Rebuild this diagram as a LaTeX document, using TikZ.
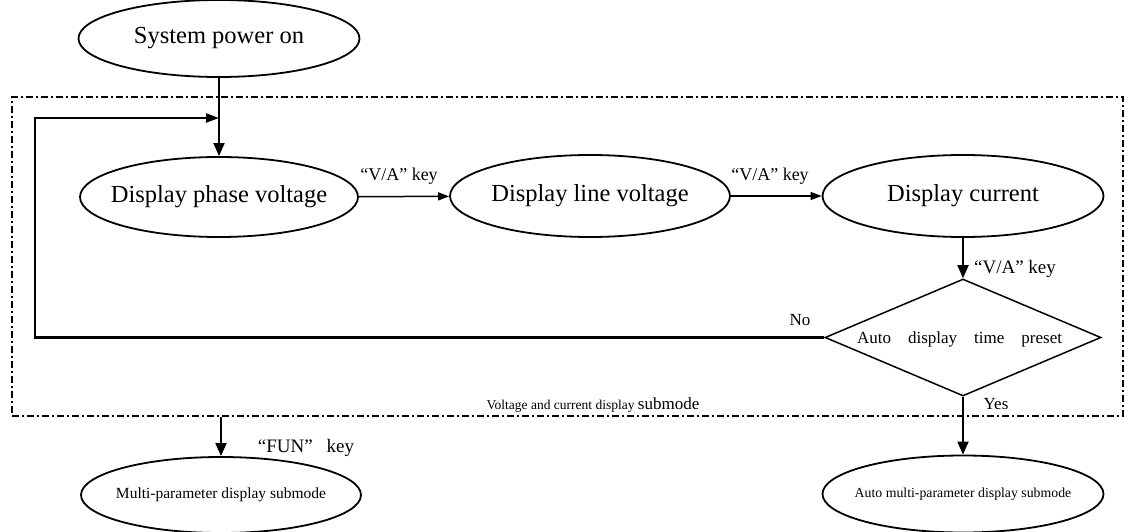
\documentclass[tikz,border=0pt]{standalone}
\usepackage{fontspec}
\setmainfont{Liberation Serif}
\usetikzlibrary{shapes.geometric,arrows.meta}
\newcommand{\zw}[1]{\makebox[0pt]{#1}}
\tikzset{
  every picture/.style={x=1pt,y=-1pt},
  stadium/.style={draw,ellipse,line width=1.8pt,inner sep=0pt,align=center},
  bigtext/.style={font=\fontsize{24.5}{28}\selectfont},
  flow/.style={line width=1.8pt,-{Triangle[length=13pt,width=11pt]}},
  hflow/.style={line width=1.5pt,-{Triangle[length=11pt,width=8pt]}},
  keylabel/.style={font=\fontsize{18}{20}\selectfont,inner sep=0pt},
  dashdot/.style={line width=1.8pt,dash pattern=on 7pt off 3pt on 2pt off 3pt},
}
\begin{document}
\begin{tikzpicture}
\useasboundingbox (0,0) rectangle (1125,532);
% dash-dot submode frame
\node[draw,dashdot,minimum width=1111pt,minimum height=319pt,inner sep=0pt] (box) at (567.5,256.5) {};
\node[inner sep=0pt,anchor=base] (boxlab) at (593,409) {\fontsize{13.5}{15}\selectfont Voltage and current display \fontsize{17}{19}\selectfont submode};
% ellipses
\node[stadium,bigtext,minimum width=281pt,minimum height=77pt] (pwr) at (219,38.5) {\zw{System power on}};
\node[stadium,bigtext,minimum width=278pt,minimum height=80pt] (phase) at (219,197) {\zw{Display phase voltage}};
\node[stadium,bigtext,minimum width=280pt,minimum height=82pt] (linev) at (590,196) {\zw{Display line voltage}};
\node[stadium,bigtext,minimum width=281pt,minimum height=82pt] (curr) at (963,196) {\zw{Display current}};
\node[draw,diamond,line width=1.5pt,inner sep=0pt,minimum width=276pt,minimum height=117pt] (dec) at (963,337.5) {};
\node[inner sep=0pt] (dectext) at (959.5,339) {\fontsize{17}{19}\selectfont\makebox[205pt][s]{Auto\hfill display\hfill time\hfill preset}};
\node[stadium,font=\fontsize{15.5}{18}\selectfont,minimum width=280pt,minimum height=76pt] (multi) at (221,495) {\zw{Multi-parameter display submode}};
\node[stadium,font=\fontsize{13.8}{16}\selectfont,minimum width=281pt,minimum height=77pt] (autom) at (963,494) {\zw{Auto multi-parameter display submode}};
% connectors
\draw[flow] (pwr) -- (phase);
\draw[hflow] (phase) -- (linev);
\draw[hflow] (linev) -- (curr);
\draw[flow] (curr) -- (dec);
\draw[flow] (dec) -- (autom);
\coordinate (fb) at (35,118);
\draw[line width=2.4pt,-{Triangle[length=13pt,width=9pt]}] (dec.west) -| (fb) -- (fb -| pwr.south);
\draw[flow] (box.south -| multi.north) -- (multi.north);
% labels
\node[keylabel] (l1) at (399,176) {“V/A”\ key};
\node[keylabel] (l2) at (770,176) {“V/A”\ key};
\node[keylabel,font=\fontsize{19}{21}\selectfont] (l3) at (1015,269) {“V/A”\ key};
\node[keylabel,font=\fontsize{17}{19}\selectfont] (no) at (800,320) {No};
\node[keylabel,font=\fontsize{17}{19}\selectfont] (yes) at (996,404) {Yes};
\node[keylabel,font=\fontsize{19}{21}\selectfont] (fun) at (306,448) {“FUN”\hspace{14pt}key};
\end{tikzpicture}
\end{document}
